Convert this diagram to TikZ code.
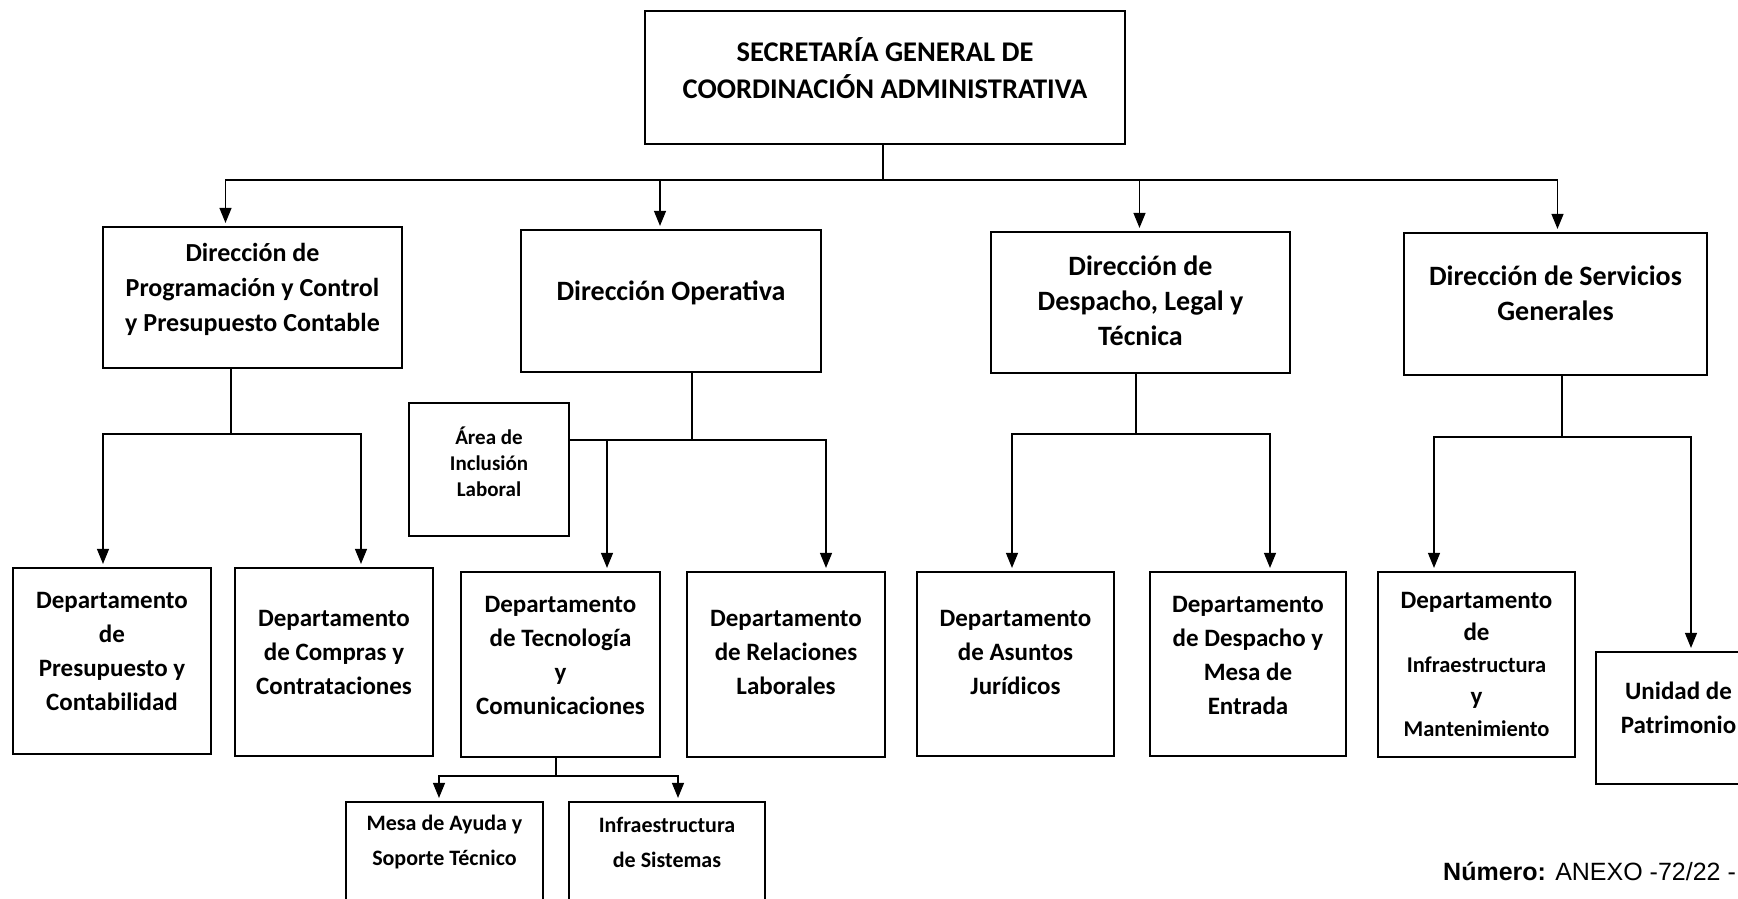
\documentclass[tikz,border=0pt]{standalone}
\usepackage{fontspec}
\setmainfont{Carlito}
\newfontfamily\arialfont{Liberation Sans}
\usetikzlibrary{arrows.meta}

\begin{document}
\begin{tikzpicture}[x=1pt,y=-1pt]
  \tikzstyle{box}=[draw=black, fill=white, line width=2.2pt, rectangle, inner sep=0pt]
  \tikzstyle{txt}=[align=center, inner sep=0pt, font=\bfseries\fontsize{28}{35}\selectfont]
  \tikzstyle{dtxt}=[txt, font=\bfseries\fontsize{25}{34}\selectfont]
  \tikzstyle{small}=[txt, font=\bfseries\fontsize{21}{26}\selectfont]
  \tikzstyle{line}=[draw, line width=1.2pt]
  \tikzstyle{arrow}=[line, -{Triangle[length=15pt,width=12pt]}, shorten >=3pt]

  \useasboundingbox (0,0) rectangle (1738,898);
  \clip (0,0) rectangle (1738,898);

  % boxes
  \node[box, minimum width=480, minimum height=133] (sec) at (885,77.5) {};
  \node[box, minimum width=299, minimum height=141] (dpc) at (252.5,297.5) {};
  \node[box, minimum width=300, minimum height=142] (dop) at (671,301) {};
  \node[box, minimum width=299, minimum height=141] (ddl) at (1140.5,302.5) {};
  \node[box, minimum width=303, minimum height=142] (dsg) at (1555.5,304) {};
  \node[box, minimum width=160, minimum height=133] (area) at (489,469.5) {};
  \node[box, minimum width=198, minimum height=186] (dpres) at (112,661) {};
  \node[box, minimum width=198, minimum height=188] (dcomp) at (334,662) {};
  \node[box, minimum width=199, minimum height=185] (dtec) at (560.5,664.5) {};
  \node[box, minimum width=198, minimum height=185] (drel) at (786,664.5) {};
  \node[box, minimum width=197, minimum height=184] (dasu) at (1015.5,664) {};
  \node[box, minimum width=196, minimum height=184] (ddes) at (1248,664) {};
  \node[box, minimum width=197, minimum height=185] (dinf) at (1476.5,664.5) {};
  \node[box, minimum width=165, minimum height=132] (upat) at (1678.5,718) {};
  \node[box, minimum width=197, minimum height=130] (mesa) at (444.5,867) {};
  \node[box, minimum width=196, minimum height=130] (isis) at (667,867) {};

  % texts
  \node[txt, font=\bfseries\fontsize{28.5}{37}\selectfont] (secT) at ([yshift=9.5pt]sec.center) {SECRETARÍA GENERAL DE\\COORDINACIÓN ADMINISTRATIVA};
  \node[txt, font=\bfseries\fontsize{26}{35}\selectfont] (dpcT) at ([yshift=8pt]dpc.center) {Dirección de\\Programación y Control\\y Presupuesto Contable};
  \node[txt] (dopT) at ([yshift=8pt]dop.center) {Dirección Operativa};
  \node[txt] (ddlT) at ([yshift=2pt]ddl.center) {Dirección de\\Despacho, Legal y\\Técnica};
  \node[txt] (dsgT) at ([yshift=11pt]dsg.center) {Dirección de Servicios\\Generales};
  \node[small] (areaT) at ([yshift=8pt]area.center) {Área de\\Inclusión\\Laboral};
  \node[dtxt] (dpresT) at ([yshift=10pt]dpres.center) {Departamento\\de\\Presupuesto y\\Contabilidad};
  \node[dtxt] (dcompT) at ([yshift=10pt]dcomp.center) {Departamento\\de Compras y\\Contrataciones};
  \node[dtxt] (dtecT) at ([yshift=9pt]dtec.center) {Departamento\\de Tecnología\\y\\Comunicaciones};
  \node[dtxt] (drelT) at ([yshift=12pt]drel.center) {Departamento\\de Relaciones\\Laborales};
  \node[dtxt] (dasuT) at ([yshift=12pt]dasu.center) {Departamento\\de Asuntos\\Jurídicos};
  \node[dtxt] (ddesT) at ([yshift=9pt]ddes.center) {Departamento\\de Despacho y\\Mesa de\\Entrada};
  \node[dtxt, font=\bfseries\fontsize{25}{32}\selectfont] (dinfT) at (dinf.center) {Departamento\\de\\{\fontsize{22.5}{32}\selectfont Infraestructura}\\y\\{\fontsize{22.5}{32}\selectfont Mantenimiento}};
  \node[dtxt] (upatT) at ([yshift=10pt]upat.center) {Unidad de\\Patrimonio};
  \node[small, font=\bfseries\fontsize{22}{35}\selectfont] (mesaT) at ([yshift=25pt]mesa.center) {Mesa de Ayuda y\\Soporte Técnico};
  \node[small, font=\bfseries\fontsize{22}{35}\selectfont] (isisT) at ([yshift=25pt]isis.center) {Infraestructura\\de Sistemas};

  \node[anchor=base west, inner sep=0pt, font=\arialfont\fontsize{25}{30}\selectfont] (num) at (1443,880) {\textbf{Número:} ANEXO -72/22 -};

  % connectors
  \coordinate (b0) at (883,180);
  \draw[line] (sec.south -| b0) -- (b0);
  \foreach \dest/\dx in {dpc/-27, dop/-11, ddl/-1, dsg/2}
    \draw[arrow] (b0) -| ([xshift=\dx]\dest.north);

  \coordinate (b1) at (231,434);
  \draw[line] (dpc.south -| b1) -- (b1);
  \foreach \dest/\dx in {dpres/-9, dcomp/27}
    \draw[arrow] (b1) -| ([xshift=\dx]\dest.north);

  \coordinate (b2) at (692,440);
  \draw[line] (dop.south -| b2) -- (b2);
  \draw[line] (b2) -- (area.east |- b2);
  \foreach \dest/\dx in {dtec/46.5, drel/40}
    \draw[arrow] (b2) -| ([xshift=\dx]\dest.north);

  \coordinate (b3) at (1136,434);
  \draw[line] (ddl.south -| b3) -- (b3);
  \foreach \dest/\dx in {dasu/-3.5, ddes/22}
    \draw[arrow] (b3) -| ([xshift=\dx]\dest.north);

  \coordinate (b4) at (1562,437);
  \draw[line] (dsg.south -| b4) -- (b4);
  \foreach \dest/\dx in {dinf/-42.5, upat/12.5}
    \draw[arrow] (b4) -| ([xshift=\dx]\dest.north);

  \coordinate (b5) at (556,776);
  \draw[line] (dtec.south -| b5) -- (b5);
  \foreach \dest/\dx in {mesa/-5.5, isis/11}
    \draw[arrow] (b5) -| ([xshift=\dx]\dest.north);
\end{tikzpicture}
\end{document}
